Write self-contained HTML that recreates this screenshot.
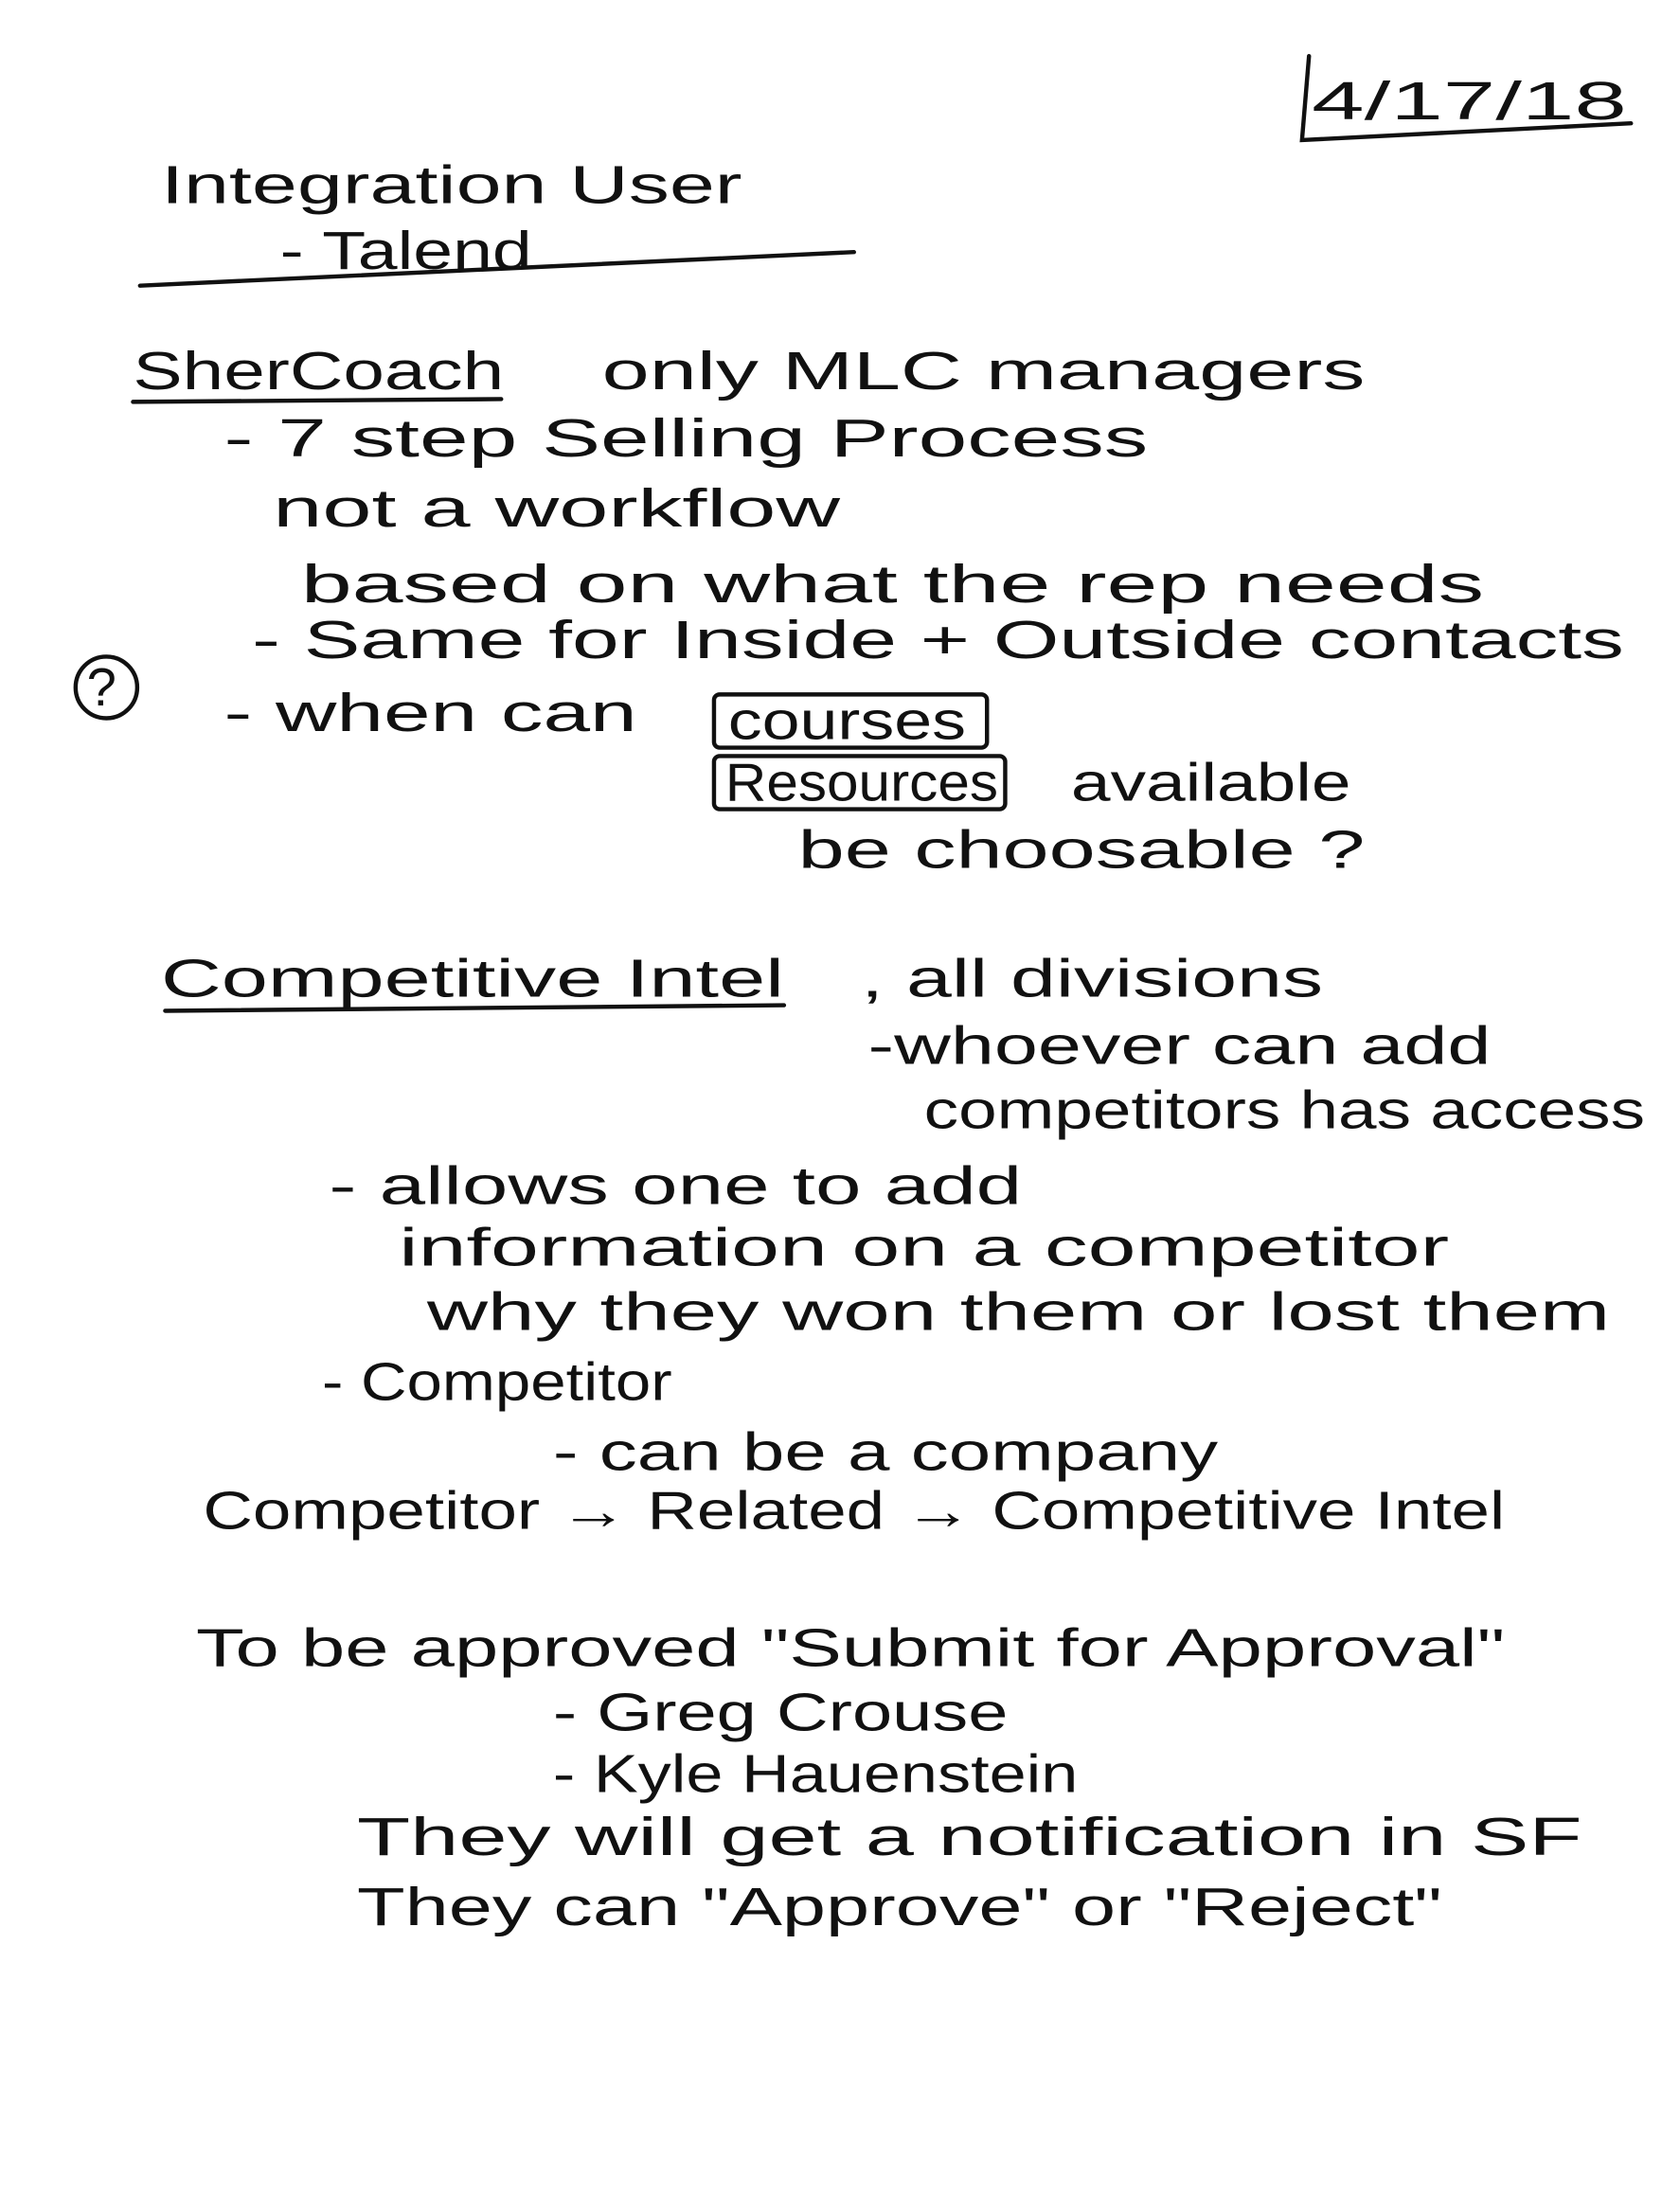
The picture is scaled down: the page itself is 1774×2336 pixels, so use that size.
<!DOCTYPE html>
<html><head><meta charset="utf-8">
<style>
html,body{margin:0;padding:0;background:#fff;}
svg{display:block;}
text{font-family:"Liberation Sans",sans-serif;fill:#111;font-size:38px;}
</style></head>
<body>
<svg width="1774" height="2336" viewBox="0 0 1200 1580" xmlns="http://www.w3.org/2000/svg">
<g stroke="#111" stroke-width="3" fill="none" stroke-linecap="round">
<path d="M935 40 L930 100 L1165 88"/>
<line x1="100" y1="204" x2="610" y2="180"/>
<line x1="95" y1="287" x2="358" y2="285"/>
<line x1="118" y1="722" x2="560" y2="718"/>
<rect x="510" y="496" width="195" height="38" rx="4"/>
<rect x="510" y="540" width="208" height="38" rx="4"/>
<circle cx="76" cy="491" r="22"/>
</g>
<text x="62" y="504" font-size="32">?</text>
<text x="937" y="85" textLength="225" lengthAdjust="spacingAndGlyphs" font-size="44">4/17/18</text>
<text x="115" y="145" textLength="415" lengthAdjust="spacingAndGlyphs" font-size="46">Integration User</text>
<text x="200" y="192" textLength="180" lengthAdjust="spacingAndGlyphs" font-size="42">- Talend</text>
<text x="95" y="278" textLength="265" lengthAdjust="spacingAndGlyphs">SherCoach</text>
<text x="430" y="278" textLength="545" lengthAdjust="spacingAndGlyphs">only MLC managers</text>
<text x="160" y="326" textLength="660" lengthAdjust="spacingAndGlyphs">- 7 step Selling Process</text>
<text x="195" y="376" textLength="405" lengthAdjust="spacingAndGlyphs">not a workflow</text>
<text x="215" y="430" textLength="845" lengthAdjust="spacingAndGlyphs">based on what the rep needs</text>
<text x="180" y="470" textLength="980" lengthAdjust="spacingAndGlyphs">- Same for Inside + Outside contacts</text>
<text x="160" y="522" textLength="295" lengthAdjust="spacingAndGlyphs">- when can</text>
<text x="520" y="528" textLength="170" lengthAdjust="spacingAndGlyphs">courses</text>
<text x="518" y="572" textLength="195" lengthAdjust="spacingAndGlyphs">Resources</text>
<text x="765" y="572" textLength="200" lengthAdjust="spacingAndGlyphs">available</text>
<text x="570" y="620" textLength="405" lengthAdjust="spacingAndGlyphs">be choosable ?</text>
<text x="115" y="712" textLength="445" lengthAdjust="spacingAndGlyphs">Competitive Intel</text>
<text x="615" y="712" textLength="330" lengthAdjust="spacingAndGlyphs">, all divisions</text>
<text x="620" y="760" textLength="445" lengthAdjust="spacingAndGlyphs">-whoever can add</text>
<text x="660" y="806" textLength="515" lengthAdjust="spacingAndGlyphs">competitors has access</text>
<text x="235" y="860" textLength="495" lengthAdjust="spacingAndGlyphs">- allows one to add</text>
<text x="285" y="904" textLength="750" lengthAdjust="spacingAndGlyphs">information on a competitor</text>
<text x="305" y="950" textLength="845" lengthAdjust="spacingAndGlyphs">why they won them or lost them</text>
<text x="230" y="1000" textLength="250" lengthAdjust="spacingAndGlyphs">- Competitor</text>
<text x="395" y="1050" textLength="475" lengthAdjust="spacingAndGlyphs">- can be a company</text>
<text x="145" y="1092" textLength="930" lengthAdjust="spacingAndGlyphs">Competitor → Related → Competitive Intel</text>
<text x="140" y="1190" textLength="935" lengthAdjust="spacingAndGlyphs">To be approved "Submit for Approval"</text>
<text x="395" y="1236" textLength="325" lengthAdjust="spacingAndGlyphs">- Greg Crouse</text>
<text x="395" y="1280" textLength="375" lengthAdjust="spacingAndGlyphs">- Kyle Hauenstein</text>
<text x="255" y="1325" textLength="875" lengthAdjust="spacingAndGlyphs">They will get a notification in SF</text>
<text x="255" y="1375" textLength="775" lengthAdjust="spacingAndGlyphs">They can "Approve" or "Reject"</text>
</svg>
</body></html>
